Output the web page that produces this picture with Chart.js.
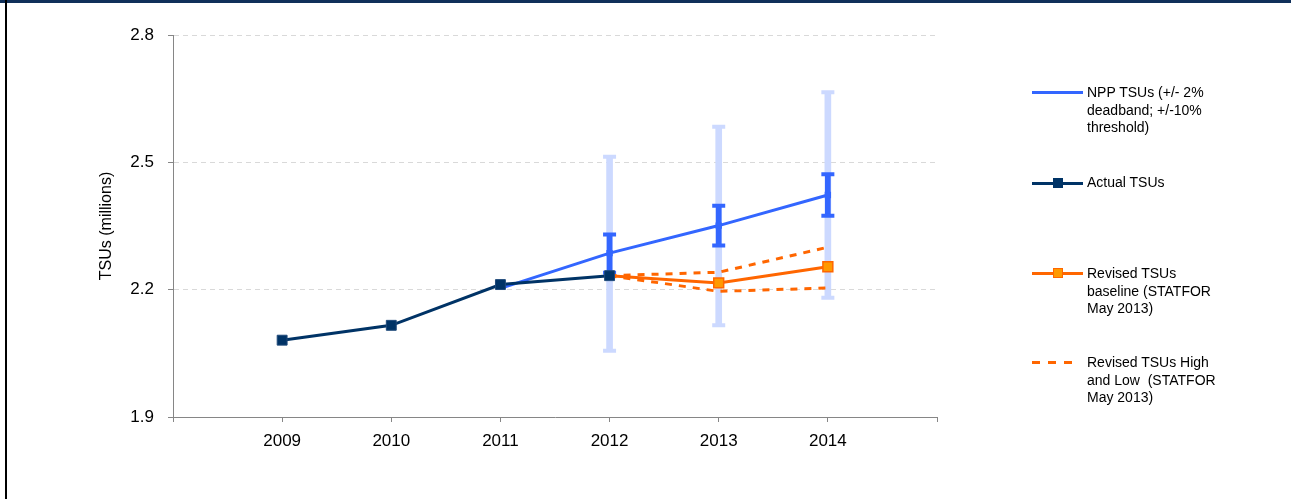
<!DOCTYPE html>
<html>
<head>
<meta charset="utf-8">
<script src="https://cdn.jsdelivr.net/npm/chart.js@4"></script>
<style>
  body { margin: 0; background: #fff; }
  #wrap { position: relative; width: 1291px; height: 499px; overflow: hidden; font-family: "Liberation Sans", Arial, sans-serif; }
  #chart { position: absolute; left: 0; top: 0; }
  #topBar { position: absolute; left: 0; top: 0; width: 1291px; height: 3px; background: #10305a; }
  #leftBar { position: absolute; left: 5px; top: 0; width: 2px; height: 499px; background: #000; }
  .leg { position: absolute; left: 1087px; font-size: 14px; line-height: 17.5px; color: #000; white-space: nowrap; }
  .swatch { position: absolute; left: 1032px; width: 51px; height: 3px; }
  .mark { position: absolute; width: 10px; height: 10px; box-sizing: border-box; }
</style>
</head>
<body>
<div id="wrap">
  <canvas id="chart" width="1291" height="499"></canvas>
  <div id="topBar"></div>
  <div id="leftBar"></div>

  <!-- legend -->
  <div class="swatch" style="top:91px;background:#3366ff;"></div>
  <div class="leg" style="top:84px;">NPP TSUs (+/- 2%<br>deadband; +/-10%<br>threshold)</div>

  <div class="swatch" style="top:182px;background:#003366;"></div>
  <div class="mark" style="left:1053px;top:178px;background:#003366;"></div>
  <div class="leg" style="top:174px;">Actual TSUs</div>

  <div class="swatch" style="top:272px;background:#ff6600;"></div>
  <div class="mark" style="left:1053px;top:268px;background:#ff9900;border:1px solid #ff6600;"></div>
  <div class="leg" style="top:265px;">Revised TSUs<br>baseline (STATFOR<br>May 2013)</div>

  <div class="swatch" style="top:361px;width:46px;background:repeating-linear-gradient(90deg,#ff6600 0 8px,transparent 8px 16px);"></div>
  <div class="leg" style="top:354px;">Revised TSUs High<br>and Low&nbsp; (STATFOR<br>May 2013)</div>
</div>

<script>
// categories (empty slots at both ends so the axis runs 2008..2015)
const years = ['', '2009', '2010', '2011', '2012', '2013', '2014', ''];

// series, TSUs in millions
const actualTSUs   = [null, 2.081, 2.116, 2.212, 2.233, null, null, null];
const nppTSUs      = [null, null, null, 2.203, 2.286, 2.351, 2.423, null];
const revisedBase  = [null, null, null, null, 2.233, 2.216, 2.254, null];
const revisedHigh  = [null, null, null, null, 2.233, 2.241, 2.300, null];
const revisedLow   = [null, null, null, null, 2.233, 2.196, 2.204, null];

// error bars round the NPP values
const deadbandLow    = [null, null, null, null, 2.240, 2.304, 2.374, null];
const deadbandHigh   = [null, null, null, null, 2.330, 2.398, 2.472, null];
const thresholdLow   = [null, null, null, null, 2.056, 2.116, 2.181, null];
const thresholdHigh  = [null, null, null, null, 2.513, 2.584, 2.665, null];

// y axis
const yMin = 1.9;
const yMax = 2.8;
const yStep = 0.3;

function toRange(lo, hi) {
    return lo.map((v, i) => v == null ? null : [v, hi[i]]);
}

Chart.defaults.font.family = "'Liberation Sans', Arial, sans-serif";
Chart.defaults.color = '#000';

const ctx = document.getElementById('chart').getContext('2d');
const tsuChart = new Chart(ctx, {
    type: 'line',
    data: {
        labels: years,
        datasets: [
            {
                label: 'Actual TSUs',
                data: actualTSUs,
                borderColor: '#003366',
                backgroundColor: '#003366',
                borderWidth: 3,
                pointStyle: 'rect',
                pointRadius: 7,
                pointBorderWidth: 1,
                pointBorderColor: '#1f4a7a',
                pointBackgroundColor: '#003366',
                order: 0
            },
            {
                label: 'Revised TSUs baseline (STATFOR May 2013)',
                data: revisedBase,
                borderColor: '#ff6600',
                borderWidth: 3,
                pointStyle: 'rect',
                pointRadius: [0, 0, 0, 0, 0, 7, 7, 0],
                pointBorderWidth: 1.5,
                pointBorderColor: '#ff6600',
                pointBackgroundColor: '#ff9900',
                order: 1
            },
            {
                label: 'Revised TSUs High',
                data: revisedHigh,
                borderColor: '#ff6600',
                borderWidth: 3,
                borderDash: [7, 7],
                pointRadius: 0,
                order: 2
            },
            {
                label: 'Revised TSUs Low',
                data: revisedLow,
                borderColor: '#ff6600',
                borderWidth: 3,
                borderDash: [7, 7],
                pointRadius: 0,
                order: 2
            },
            {
                label: 'deadband high cap',
                data: deadbandHigh,
                showLine: false,
                pointStyle: 'line',
                pointRadius: 6.5,
                pointBorderWidth: 4,
                pointBorderColor: '#3366ff',
                order: 3
            },
            {
                label: 'deadband low cap',
                data: deadbandLow,
                showLine: false,
                pointStyle: 'line',
                pointRadius: 6.5,
                pointBorderWidth: 4,
                pointBorderColor: '#3366ff',
                order: 3
            },
            {
                type: 'bar',
                label: 'deadband',
                data: toRange(deadbandLow, deadbandHigh),
                backgroundColor: '#3366ff',
                barThickness: 5,
                grouped: false,
                order: 4
            },
            {
                label: 'NPP TSUs (+/- 2% deadband; +/-10% threshold)',
                data: nppTSUs,
                borderColor: '#3366ff',
                borderWidth: 3,
                pointStyle: 'rect',
                pointRadius: [0, 0, 0, 0, 4.5, 4.5, 4.5, 0],
                pointBorderWidth: 0,
                pointBackgroundColor: '#3366ff',
                order: 5
            },
            {
                label: 'threshold high cap',
                data: thresholdHigh,
                showLine: false,
                pointStyle: 'line',
                pointRadius: 6.5,
                pointBorderWidth: 4,
                pointBorderColor: '#ccd9ff',
                order: 6
            },
            {
                label: 'threshold low cap',
                data: thresholdLow,
                showLine: false,
                pointStyle: 'line',
                pointRadius: 6.5,
                pointBorderWidth: 4,
                pointBorderColor: '#ccd9ff',
                order: 6
            },
            {
                type: 'bar',
                label: 'threshold',
                data: toRange(thresholdLow, thresholdHigh),
                backgroundColor: '#ccd9ff',
                barThickness: 6,
                grouped: false,
                order: 7
            }
        ]
    },
    options: {
        responsive: false,
        animation: false,
        devicePixelRatio: 1,
        layout: {
            padding: { left: 93, top: 35, right: 354, bottom: 0 }
        },
        plugins: {
            legend: { display: false },
            tooltip: { enabled: false }
        },
        scales: {
            x: {
                type: 'category',
                offset: false,
                grid: {
                    offset: false,
                    drawOnChartArea: false,
                    tickLength: 5,
                    tickColor: '#868686'
                },
                border: { color: '#868686', width: 1 },
                ticks: {
                    font: { size: 17 },
                    padding: 9,
                    autoSkip: false,
                    maxRotation: 0
                },
                afterFit: function (scale) {
                    scale.height = 82;
                }
            },
            y: {
                min: yMin,
                max: yMax,
                ticks: {
                    stepSize: yStep,
                    font: { size: 17 },
                    padding: 14,
                    callback: v => v.toFixed(1)
                },
                grid: {
                    color: c => c.index === 0 ? 'rgba(0,0,0,0)' : '#d9d9d9',
                    tickLength: 5,
                    tickColor: '#868686'
                },
                border: { color: '#868686', width: 1, dash: [5, 4] },
                title: {
                    display: true,
                    text: 'TSUs (millions)',
                    font: { size: 16 },
                    padding: { top: 4, bottom: 0 }
                },
                afterFit: function (scale) {
                    scale.width = 80;
                }
            }
        }
    }
});
</script>
</body>
</html>
